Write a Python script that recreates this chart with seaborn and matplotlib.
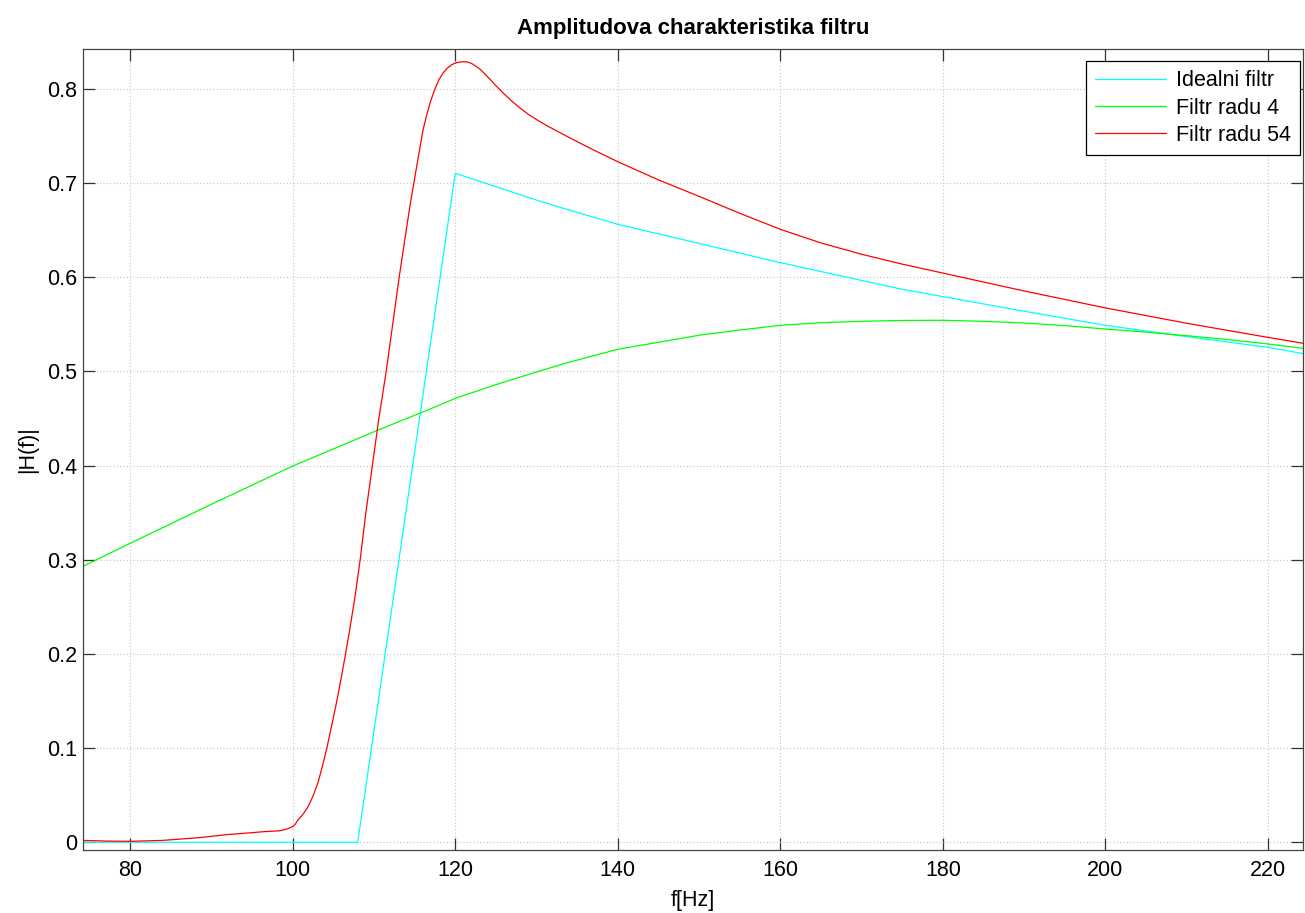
import numpy as np
import pandas as pd
import matplotlib
matplotlib.use("Agg")
import matplotlib.pyplot as plt
import seaborn as sns

# Frequency response magnitudes |H(f)| of the filters
ideal_f = [74.2, 108.0, 120.0, 130.0, 134.0, 140.0, 150.0, 160.0, 174.6, 180.0, 190.0,
           200.0, 210.0, 220.0, 224.3]
ideal_h = [0.0, 0.0, 0.7105, 0.682, 0.6715, 0.6563, 0.636, 0.6156, 0.588, 0.5795, 0.564,
           0.549, 0.537, 0.5257, 0.519]

order4_f = [74.2, 80, 90, 100, 104.5, 110, 116.8, 120, 125, 130, 134, 140, 145, 150, 155,
            160, 165, 170, 175, 180, 185, 190, 195, 200, 205, 210, 215, 220, 224.3]
order4_h = [0.293, 0.3175, 0.359, 0.3996, 0.4159, 0.436, 0.4598, 0.4715, 0.486, 0.4995,
            0.5098, 0.5236, 0.531, 0.5385, 0.544, 0.549, 0.5518, 0.5533, 0.5542, 0.5544,
            0.5533, 0.5515, 0.5487, 0.5451, 0.5418, 0.538, 0.534, 0.5292, 0.5246]

order54_f = [74.2, 77, 80, 84, 88.6, 92, 94.7, 96.5, 98.4, 99.2, 100, 100.3, 100.65, 101.3,
             101.9, 102.5, 103.1, 103.6, 104.2, 104.8, 105.45, 106, 106.5, 107, 107.6, 108.3,
             109, 109.8, 110.6, 111.5, 112.3, 113.15, 114, 114.6, 115.3, 116, 116.5, 117,
             117.5, 118, 118.5, 119, 119.5, 120, 120.5, 121, 121.5, 122, 123, 124, 125, 126,
             127, 128, 129, 130, 131, 132, 133, 134, 135.3, 137, 140, 145, 150, 155, 160, 165,
             170, 175, 180, 190, 200, 210, 220, 224.3]
order54_h = [0.002, 0.0013, 0.001, 0.002, 0.005, 0.0082, 0.010, 0.0113, 0.0122, 0.0138,
             0.0166, 0.019, 0.0237, 0.030, 0.038, 0.049, 0.063, 0.079, 0.1, 0.124, 0.151,
             0.176, 0.2, 0.225, 0.257, 0.3, 0.35, 0.4, 0.45, 0.5, 0.55, 0.603, 0.652, 0.685,
             0.72, 0.755, 0.773, 0.788, 0.800, 0.810, 0.817, 0.822, 0.8255, 0.8276, 0.8286,
             0.829, 0.8287, 0.8272, 0.8215, 0.8128, 0.8035, 0.7948, 0.7868, 0.7796, 0.7731,
             0.7675, 0.7624, 0.7577, 0.7531, 0.7486, 0.7428, 0.7353, 0.7228, 0.7035, 0.686,
             0.668, 0.651, 0.6365, 0.6245, 0.614, 0.6045, 0.5855, 0.5675, 0.5512, 0.5362,
             0.530]

series_names = ["Idealni filtr", "Filtr radu 4", "Filtr radu 54"]
series_colors = ["#00ffff", "#00ff00", "#ff0000"]

x_ticks = [80, 100, 120, 140, 160, 180, 200, 220]
y_ticks = [0, 0.1, 0.2, 0.3, 0.4, 0.5, 0.6, 0.7, 0.8]

df = pd.concat([
    pd.DataFrame({"f": ideal_f, "H": ideal_h, "filtr": series_names[0]}),
    pd.DataFrame({"f": order4_f, "H": order4_h, "filtr": series_names[1]}),
    pd.DataFrame({"f": order54_f, "H": order54_h, "filtr": series_names[2]}),
], ignore_index=True)

sns.set_theme(style="ticks")
plt.rcParams["font.family"] = ["Liberation Sans", "DejaVu Sans"]

FS = 15.5

fig = plt.figure(figsize=(13.05, 9.13), dpi=100)
ax = fig.add_axes([83 / 1305, 63 / 913, 1220 / 1305, 801 / 913])

sns.lineplot(data=df, x="f", y="H", hue="filtr", hue_order=series_names,
             palette=series_colors, estimator=None, sort=True, linewidth=0.9, ax=ax)

ax.set_xlim(74.2, 224.3)
ax.set_ylim(-0.0082, 0.8425)
ax.set_xticks(x_ticks)
ax.set_yticks(y_ticks)
ax.set_yticklabels([f"{v:g}" for v in y_ticks])

ax.grid(True, linestyle=(0, (1, 2)), color="#c4c4c4", linewidth=0.8)
ax.tick_params(direction="in", length=8.5, width=0.9, color="#333333",
               labelsize=FS, top=True, right=True, labelcolor="black")
ax.tick_params(axis="x", pad=7)
ax.tick_params(axis="y", pad=4.5)
for sp in ax.spines.values():
    sp.set_visible(True)
    sp.set_color("#444444")
    sp.set_linewidth(0.9)

ax.set_xlabel("f[Hz]", fontsize=FS, labelpad=7, color="black")
ax.set_ylabel("|H(f)|", fontsize=FS, labelpad=6, color="black")
ax.set_title("Amplitudova charakteristika filtru", fontsize=16, fontweight="bold",
             pad=11, color="black")

leg = ax.legend(loc="upper right", bbox_to_anchor=(0.9975, 0.985), borderaxespad=0,
                fontsize=FS, frameon=True, fancybox=False, framealpha=1,
                edgecolor="black", handlelength=3.3, handletextpad=0.45,
                labelspacing=0.3, borderpad=0.42)
leg.get_frame().set_linewidth(0.9)
for text in leg.get_texts():
    text.set_color("black")
for line in leg.get_lines():
    line.set_linewidth(0.9)

fig.savefig("out.png", dpi=100)
